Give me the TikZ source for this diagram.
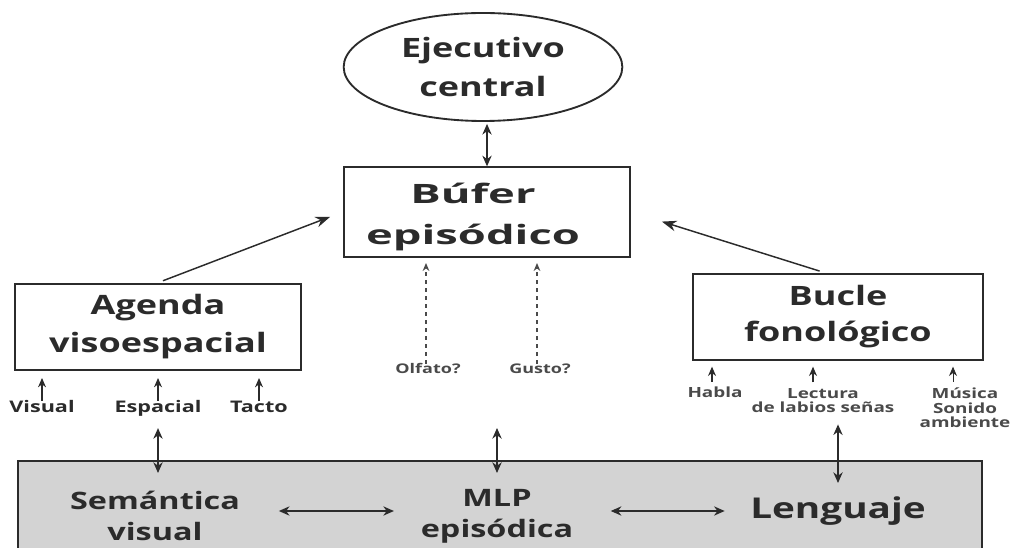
\documentclass[tikz,border=0pt]{standalone}
\usepackage{fontspec}
\setmainfont{Open Sans}[FakeStretch=1.35]
\newfontfamily\bufferfont{Open Sans}[FakeStretch=1.7]
\usetikzlibrary{arrows.meta,shapes.geometric}
\definecolor{ink}{HTML}{2B2B2B}
\definecolor{soft}{HTML}{4A4A4A}
\definecolor{mlpgray}{HTML}{D3D3D3}

\begin{document}
\begin{tikzpicture}[x=0.75pt,y=-0.75pt,
  every node/.style={text=ink,align=center,inner sep=0pt},
  box/.style={draw=ink,line width=1.5pt,rectangle},
  big/.style={font=\bfseries\fontsize{20}{27}\selectfont},
  mid/.style={font=\bfseries\fontsize{18}{23}\selectfont},
  lbl/.style={font=\bfseries\fontsize{12}{12}\selectfont},
  lblsm/.style={font=\bfseries\fontsize{10.5}{11.2}\selectfont,text=soft},
  guess/.style={font=\bfseries\fontsize{10}{10}\selectfont,text=soft},
  arr/.style={draw=ink,line width=1.1pt,-{Stealth[length=11pt,width=8pt]}},
  sarr/.style={draw=ink,line width=1pt,-{Stealth[length=7pt,width=6pt]}},
  darr/.style={draw=ink,line width=1pt,{Stealth[length=8pt,width=7pt]}-{Stealth[length=8pt,width=7pt]}},
  dsh/.style={draw=soft,line width=0.9pt,dashed,-{Stealth[length=6pt,width=5pt]}}]
\clip (0,0) rectangle (1013,548);

\node[ellipse,draw=ink,line width=1.4pt,minimum width=209pt,minimum height=81pt,
  font=\bfseries\fontsize{20}{29}\selectfont] (ejec) at (483,67) {Ejecutivo\\central};
\node[box,minimum width=215pt,minimum height=67pt] (bufer) at (487,212) {};
\node[font=\bufferfont\bfseries\fontsize{20}{31}\selectfont,anchor=base] (bufertxt) at (473,245) {Búfer\\episódico};
\node[box,font=\bfseries\fontsize{20}{28.5}\selectfont,minimum width=215pt,minimum height=65pt] (agenda) at (158,327) {Agenda\\visoespacial};
\node[box,big,minimum width=217pt,minimum height=65pt] (bucle) at (838,317) {Bucle\\fonológico};

\draw[darr] (ejec.south) ++(4,2) coordinate (ejecb) -- (ejecb |- bufer.north);
\draw[arr,shorten <=4pt,shorten >=10pt] (agenda.north) -- (bufer.west);
\draw[arr,shorten <=4pt,shorten >=24pt] ([xshift=-10pt]bucle.north) -- (bufer.east);

% entradas de la agenda
\node[lbl,anchor=base] (visual) at (42,413) {Visual};
\node[lbl,anchor=base] (espacial) at (158,413) {Espacial};
\node[lbl,anchor=base] (tacto) at (259,413) {Tacto};
\foreach \n in {visual,espacial,tacto}
  \draw[sarr,shorten >=5pt] (\n.north) -- (\n.north |- agenda.south);

% entradas del bucle
\node[lblsm,anchor=base] (habla) at (715,398) {Habla};
\node[lblsm,anchor=base] (lectura) at (823,413) {Lectura\\de labios señas};
\node[lblsm,anchor=base] (musica) at (965,428) {Música\\Sonido\\ambiente};
\draw[sarr,shorten <=4pt,shorten >=4pt] (habla.north) ++(-3,0) coordinate (h1) -- (h1 |- bucle.south);
\draw[sarr,shorten <=4pt,shorten >=4pt] (lectura.north) ++(-10,0) coordinate (l1) -- (l1 |- bucle.south);
\draw[sarr,shorten <=4pt,shorten >=4pt,line width=0.6pt] (musica.north) ++(-12,0) coordinate (m1) -- (m1 |- bucle.south);

% olfato y gusto
\node[guess,anchor=base] (olfato) at (428,374) {Olfato?};
\node[guess,anchor=base] (gusto) at (540,374) {Gusto?};
\draw[dsh,shorten >=4pt] (olfato.north) ++(-2,0) coordinate (o1) -- (o1 |- bufer.south);
\draw[dsh,shorten >=4pt] (gusto.north) ++(-3,0) coordinate (g1) -- (g1 |- bufer.south);

% memoria a largo plazo
\draw[draw=ink,line width=1.5pt,fill=mlpgray] (18,461) rectangle (982,600);
\node[mid,anchor=base] (sem) at (155,540) {Semántica\\visual};
\node[mid,anchor=base] (mlp) at (497,537) {MLP\\episódica};
\node[font=\bfseries\fontsize{21.5}{24}\selectfont,anchor=base] (leng) at (838,518) {Lenguaje};
\coordinate (mlptop) at (497,428);

\draw[darr] (espacial.south) ++(0,11) coordinate (e2) -- (e2 |- 0,473);
\draw[darr] (mlptop) -- (mlptop |- 0,473);
\draw[darr] (lectura.south) ++(15,11) coordinate (l2) -- (l2 |- 0,483);
\draw[darr,shorten <=29pt,shorten >=20pt] (sem.east |- 0,511) -- (mlp.west |- 0,511);
\draw[darr,shorten <=28pt,shorten >=19pt] (mlp.east |- 0,511) -- (leng.west |- 0,511);
\end{tikzpicture}
\end{document}
